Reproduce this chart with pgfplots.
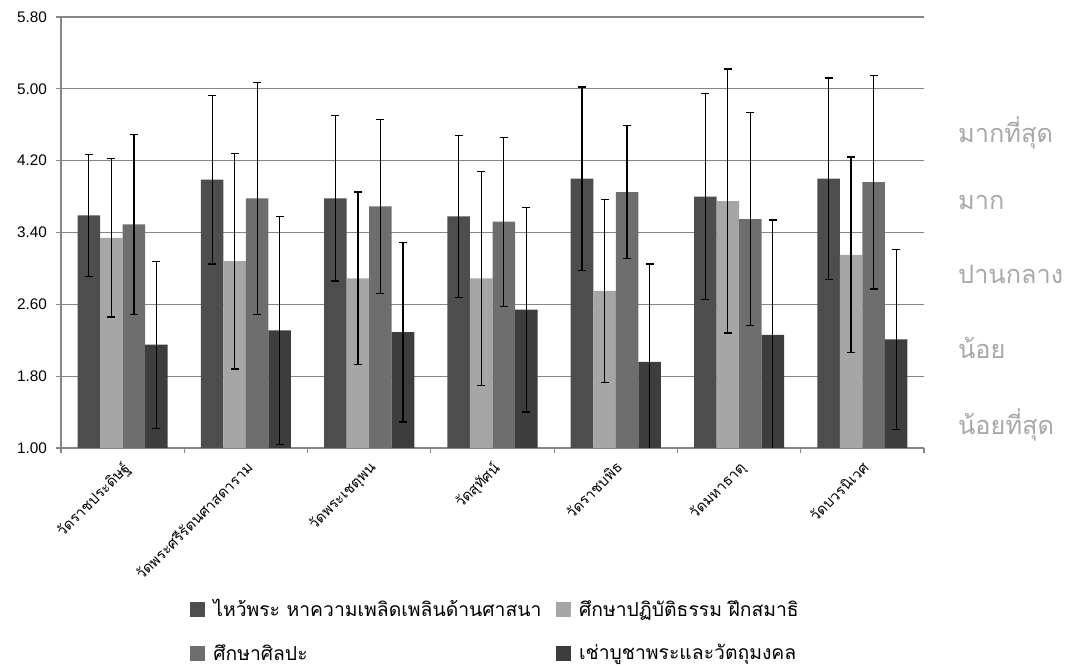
\documentclass[border=0pt]{standalone}
\usepackage{fontspec}
\setmainfont{Liberation Sans}
\newfontfamily\thaifont[Script=Thai]{Loma}
\usepackage{pgfplots}
\usepackage{pgfplotstable}
\pgfplotsset{compat=1.18}

\definecolor{sA}{HTML}{4D4D4D}
\definecolor{sB}{HTML}{A6A6A6}
\definecolor{sC}{HTML}{6E6E6E}
\definecolor{sD}{HTML}{3D3D3D}
\definecolor{gridc}{HTML}{868686}
\definecolor{lab}{HTML}{A8A8A8}

% x  mean/err per series
\pgfplotstableread{
x  a    ea    b    eb    c    ec    d    ed
1  3.59 0.68  3.34 0.88  3.49 1.00  2.15 0.93
2  3.99 0.94  3.08 1.20  3.78 1.29  2.31 1.27
3  3.78 0.92  2.89 0.96  3.69 0.97  2.29 1.00
4  3.58 0.90  2.89 1.19  3.52 0.94  2.54 1.14
5  4.00 1.02  2.75 1.02  3.85 0.74  1.96 1.09
6  3.80 1.15  3.75 1.47  3.55 1.19  2.26 1.28
7  4.00 1.12  3.15 1.09  3.96 1.19  2.21 1.00
}\data

\begin{document}
\begin{tikzpicture}
\useasboundingbox (-45.75pt,-164.25pt) rectangle (753pt,336pt);
\begin{axis}[
  name=ax, at={(0,0)}, anchor=south west,
  scale only axis, width=647.25pt, height=323.25pt,
  ybar=0pt, bar width=16.9pt,
  xmin=0.5, xmax=7.5, ymin=1, ymax=5.8,
  axis x line=bottom, axis y line=left,
  axis line style={gridc, line width=1pt, -},
  ytick={1,1.8,2.6,3.4,4.2,5.0,5.8},
  ymajorgrids, grid style={gridc, line width=0.8pt},
  yticklabel style={/pgf/number format/fixed, /pgf/number format/fixed zerofill, /pgf/number format/precision=2},
  /pgf/number format/assume math mode=true,
  tick align=outside, major tick length=4pt, minor tick length=4pt,
  tick style={gridc, line width=0.8pt},
  y tick label style={font=\fontsize{11.5}{13}\selectfont, xshift=-3pt},
  xtick={1,...,7}, major x tick style={draw=none},
  minor xtick={0.5,1.5,...,7.5},
  xticklabels={วัดราชประดิษฐ์, วัดพระศรีรัตนศาสดาราม, วัดพระเชตุพน, วัดสุทัศน์, วัดราชบพิธ, วัดมหาธาตุ, วัดบวรนิเวศ},
  x tick label style={font=\thaifont\fontsize{11}{13}\selectfont, rotate=45, anchor=north east, inner sep=1pt, xshift=-3pt, yshift=-2pt},
  clip mode=individual,
  error bars/y dir=both, error bars/y explicit,
  error bars/error bar style={black, line width=0.9pt},
  error bars/error mark options={black, line width=0.9pt, mark size=3pt, rotate=90},
  legend columns=2, legend cell align=left,
  legend style={draw=none, fill=none, inner sep=0pt,
    at={(0.1495,-0.345)}, anchor=north west,
    font=\thaifont\fontsize{14.5}{16}\selectfont, row sep=15pt,
    /tikz/every odd column/.append style={column sep=4pt},
    /tikz/every even column/.append style={column sep=9pt}},
  legend image code/.code={\fill[#1] (0pt,-5.6pt) rectangle (11.25pt,5.6pt);},
]
\addplot[fill=sA, draw=none] table[x=x, y=a, y error=ea] {\data};
\addlegendentry{ไหว้พระ หาความเพลิดเพลินด้านศาสนา}
\addplot[fill=sB, draw=none] table[x=x, y=b, y error=eb] {\data};
\addlegendentry{ศึกษาปฏิบัติธรรม ฝึกสมาธิ}
\addplot[fill=sC, draw=none] table[x=x, y=c, y error=ec] {\data};
\addlegendentry{ศึกษาศิลปะ}
\addplot[fill=sD, draw=none] table[x=x, y=d, y error=ed] {\data};
\addlegendentry{เช่าบูชาพระและวัตถุมงคล}

\begin{scope}[every node/.style={anchor=west, text=lab, font=\thaifont\fontsize{19}{21}\selectfont, inner sep=0pt}]
\node at (axis cs:7.775,4.51) {มากที่สุด};
\node at (axis cs:7.775,3.74) {มาก};
\node at (axis cs:7.775,2.93) {ปานกลาง};
\node at (axis cs:7.775,2.11) {น้อย};
\node at (axis cs:7.775,1.26) {น้อยที่สุด};
\end{scope}
\end{axis}
\end{tikzpicture}
\end{document}
